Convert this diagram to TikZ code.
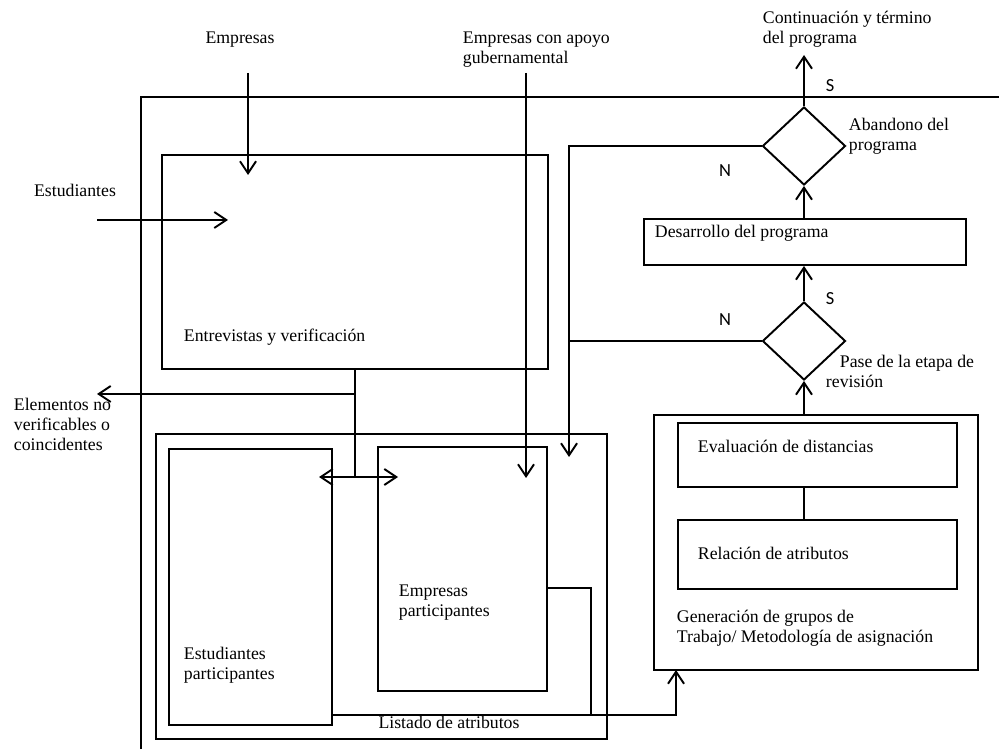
\documentclass[tikz,border=0pt]{standalone}
\usepackage{fontspec}
\setmainfont{Liberation Serif}
\newfontfamily\ynfont{Carlito}
\usetikzlibrary{arrows.meta,shapes.geometric}

\begin{document}
\begin{tikzpicture}[
    >={Straight Barb[length=2.4mm,width=3.2mm]},
    line width=1.1pt,
    box/.style={draw, rectangle, inner sep=0pt},
    decision/.style={draw, diamond, inner sep=0pt, minimum width=1.66cm, minimum height=1.56cm},
    txt/.style={font=\fontsize{10.1}{11.4}\selectfont, align=left, anchor=west, inner sep=0pt},
    yn/.style={font=\ynfont\fontsize{10.5}{12}\selectfont, inner sep=0pt}
]
    \useasboundingbox (0,0) rectangle (19.98,14.98);

    % Outer frame
    \draw (2.82,0) -- (2.82,13.04) -- (19.98,13.04);

    % Boxes
    \node[box, minimum width=7.72cm, minimum height=4.28cm] (entre) at (7.10,9.74) {};
    \node[box, minimum width=9.02cm, minimum height=6.10cm] (listado) at (7.63,3.25) {};
    \node[box, minimum width=3.26cm, minimum height=5.52cm] (estpart) at (5.01,3.24) {};
    \node[box, minimum width=3.38cm, minimum height=4.88cm] (emppart) at (9.25,3.60) {};
    \node[box, minimum width=6.48cm, minimum height=5.10cm] (gen) at (16.32,4.13) {};
    \node[box, minimum width=5.58cm, minimum height=1.28cm] (eval) at (16.35,5.88) {};
    \node[box, minimum width=5.58cm, minimum height=1.38cm] (rel) at (16.35,3.89) {};
    \node[box, minimum width=6.44cm, minimum height=0.92cm] (desa) at (16.10,10.14) {};

    % Decisions
    \node[decision] (pase) at (16.08,8.16) {};
    \node[decision] (aband) at (16.08,12.06) {};

    % Texts
    \node[txt, anchor=center] (empLbl) at (4.80,14.18) {Empresas};
    \node[txt, anchor=center] (estLbl) at (1.50,11.18) {Estudiantes};
    \node[txt] (govLbl) at (9.24,13.98) {Empresas con apoyo\\gubernamental};
    \node[txt] (contLbl) at (15.24,14.40) {Continuación y término\\del programa};
    \node[txt] (entreLbl) at (3.66,8.24) {Entrevistas y verificación};
    \node[txt] (elemLbl) at (0.26,6.50) {Elementos no\\verificables o\\coincidentes};
    \node[txt] (estpartLbl) at (3.66,1.68) {Estudiantes\\participantes};
    \node[txt] (emppartLbl) at (7.96,2.92) {Empresas\\participantes};
    \node[txt, anchor=center] (listLbl) at (8.98,0.54) {Listado de atributos};
    \node[txt] (genLbl) at (13.52,2.42) {Generación de grupos de\\Trabajo/ Metodología de asignación};
    \node[txt] (evalLbl) at (13.94,6.06) {Evaluación de distancias};
    \node[txt] (relLbl) at (13.94,3.92) {Relación de atributos};
    \node[txt] (desaLbl) at (13.08,10.32) {Desarrollo del programa};
    \node[txt] (abandLbl) at (16.96,12.26) {Abandono del\\programa};
    \node[txt] (paseLbl) at (16.50,7.56) {\hspace{0.28cm}Pase de la etapa de\\revisión};

    % S / N
    \node[yn] (s1) at (16.60,13.26) {S};
    \node[yn] (s2) at (16.60,9.00) {S};
    \node[yn] (n1) at (14.50,11.56) {N};
    \node[yn] (n2) at (14.50,8.58) {N};

    % Inputs
    \coordinate (empIn) at (4.96,13.52);
    \coordinate (empEnd) at (4.96,11.48);
    \coordinate (estIn) at (1.94,10.58);
    \coordinate (estEnd) at (4.56,10.58);
    \coordinate (govIn) at (10.52,13.52);
    \coordinate (govEnd) at (10.52,5.42);
    \draw[->] (empIn) -- (empEnd);
    \draw[->] (estIn) -- (estEnd);
    \draw[->] (govIn) -- (govEnd);

    % Verification output
    \coordinate (split) at (7.10,7.10);
    \coordinate (hub) at (7.10,5.44);
    \coordinate (elemOut) at (1.94,7.10);
    \coordinate (toEst) at (6.38,5.44);
    \coordinate (toEmp) at (7.96,5.44);
    \draw (entre.south) -- (hub);
    \draw[->] (split) -- (elemOut);
    \draw[<->] (toEst) -- (toEmp);

    % Attribute list
    \coordinate (genIn) at (13.52,1.58);
    \draw (emppart.south east) ++(0,2.08) -- ++(0.86,0) -- ++(0,-2.54);
    \draw[->] (estpart.south east) ++(0,0.22) -| (genIn);

    % Right column
    \draw (pase.south |- eval.south) -- (pase.south |- rel.north);
    \draw[->] (pase.south |- gen.north) -- (pase.south);
    \draw[->] (pase.north) -- (desa.south -| pase.north);
    \draw[->] (desa.north -| aband.south) -- (aband.south);
    \coordinate (contOut) at (16.08,13.88);
    \draw[->] (aband.north) -- (contOut);

    % Back loop
    \coordinate (nBack) at (11.38,5.84);
    \draw[->] (aband.west) -| (nBack);
    \draw (pase.west) -- (pase.west -| nBack);
\end{tikzpicture}
\end{document}
